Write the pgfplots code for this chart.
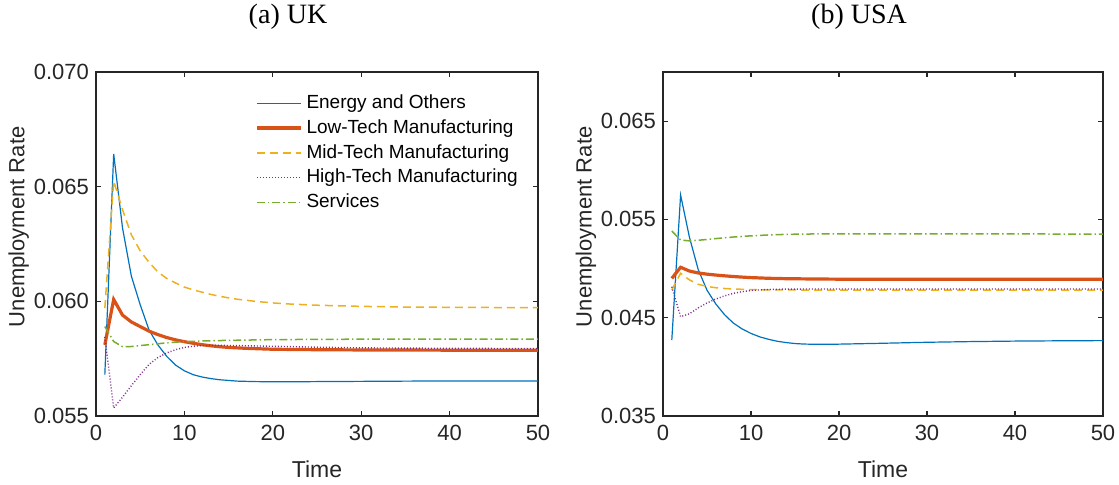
\documentclass[border=0pt]{standalone}
\usepackage{pgfplots}
\pgfplotsset{compat=1.18}
\usepackage{fontspec}
\setmainfont{Liberation Sans}
\newfontfamily\titlefont{Liberation Serif}

% MATLAB default line colours
\definecolor{mblue}{rgb}{0,0.447,0.741}
\definecolor{mred}{rgb}{0.85,0.325,0.098}
\definecolor{myellow}{rgb}{0.929,0.694,0.125}
\definecolor{mpurple}{rgb}{0.494,0.184,0.556}
\definecolor{mgreen}{rgb}{0.466,0.674,0.188}
\definecolor{axcol}{rgb}{0.15,0.15,0.15}

\pgfplotsset{
  panel/.style={
    scale only axis,
    width=221pt, height=172pt,
    xmin=0, xmax=50, xtick={0,10,...,50},
    tick align=inside,
    major tick length=2.5pt,
    axis line style={axcol, line width=0.6pt},
    every tick/.style={axcol, line width=0.6pt},
    tick label style={font=\fontsize{11}{13}\selectfont, text=axcol},
    xticklabel style={yshift=-1pt},
    /pgf/number format/assume math mode=true,
    scaled y ticks=false,
    yticklabel style={/pgf/number format/.cd, fixed, fixed zerofill, precision=3},
    xlabel={Time},
    ylabel={Unemployment Rate},
    xlabel style={font=\fontsize{11.5}{13}\selectfont, text=axcol, yshift=-3pt},
    every axis y label/.style={at={(axis description cs:-0.175,0.55)},
      anchor=center, rotate=90},
    ylabel style={font=\fontsize{11}{13}\selectfont, text=axcol},
  },
  energy/.style={mblue, line width=0.6pt},
  lowtech/.style={mred, line width=1.6pt},
  midtech/.style={myellow, line width=0.75pt, dash pattern=on 4pt off 2.5pt},
  hightech/.style={mpurple, line width=0.7pt, dash pattern=on 0.5pt off 1pt},
  services/.style={mgreen, line width=0.75pt, dash pattern=on 4pt off 1.5pt on 0.7pt off 1.5pt},
}

\begin{document}
\begin{tikzpicture}
\useasboundingbox (0,0) rectangle (559.5pt,242.5pt);

\node[font=\titlefont\fontsize{14}{16}\selectfont] at (144pt,234pt) {(a) UK};
\node[font=\titlefont\fontsize{14}{16}\selectfont] at (429.5pt,234pt) {(b) USA};

% ---------------- UK ----------------
\begin{axis}[panel,
  at={(48pt,34.5pt)}, anchor=south west,
  ymin=0.055, ymax=0.070,
  ytick={0.055,0.060,0.065,0.070},
  legend style={draw=none, fill=none, at={(0.355,0.952)}, anchor=north west,
    font=\fontsize{9.5}{11}\selectfont, row sep=0pt,
    legend cell align=left, inner sep=1pt,
    nodes={inner xsep=2pt}},
  legend image code/.code={\draw[#1] (0pt,0pt) -- (22pt,0pt);},
]
\addplot[energy] coordinates {
 (1,0.05680) (2,0.06643) (3,0.06320) (4,0.06110) (5,0.05985) (6,0.05875)
 (7,0.05810) (8,0.05760) (9,0.05722) (10,0.05697) (11,0.05680) (12,0.05670)
 (13,0.05663) (14,0.05658) (15,0.05655) (16,0.05652) (18,0.05650) (20,0.05649)
 (22,0.05649) (25,0.05650) (30,0.05651) (35,0.05652) (40,0.05653) (45,0.05653)
 (50,0.05653)};
\addlegendentry{Energy and Others}
\addplot[lowtech] coordinates {
 (1,0.05810) (2,0.06008) (3,0.05940) (4,0.05910) (5,0.05890) (6,0.05870)
 (7,0.05855) (8,0.05842) (9,0.05832) (10,0.05824) (11,0.05817) (12,0.05811)
 (13,0.05806) (14,0.05802) (15,0.05799) (17,0.05795) (20,0.05791) (25,0.05789)
 (30,0.05788) (40,0.05787) (50,0.05787)};
\addlegendentry{Low-Tech Manufacturing}
\addplot[midtech] coordinates {
 (1,0.05970) (2,0.06525) (3,0.06400) (4,0.06290) (5,0.06220) (6,0.06170)
 (7,0.06128) (8,0.06100) (9,0.06080) (10,0.06062) (11,0.06050) (12,0.06040)
 (13,0.06030) (14,0.06022) (15,0.06015) (16,0.06009) (18,0.06000) (20,0.05993)
 (22,0.05988) (25,0.05983) (30,0.05978) (35,0.05975) (40,0.05974) (45,0.05973)
 (50,0.05973)};
\addlegendentry{Mid-Tech Manufacturing}
\addplot[hightech] coordinates {
 (1,0.05845) (2,0.05535) (3,0.05582) (4,0.05632) (5,0.05680) (6,0.05725)
 (7,0.05755) (8,0.05775) (9,0.05789) (10,0.05799) (11,0.05804) (12,0.05807)
 (13,0.05808) (14,0.05808) (16,0.05807) (20,0.05804) (25,0.05800) (30,0.05797)
 (40,0.05795) (50,0.05794)};
\addlegendentry{High-Tech Manufacturing}
\addplot[services] coordinates {
 (1,0.05890) (2,0.05825) (3,0.05802) (4,0.05803) (5,0.05807) (6,0.05811)
 (7,0.05815) (8,0.05819) (9,0.05822) (10,0.05824) (12,0.05827) (14,0.05829)
 (17,0.05831) (20,0.05833) (25,0.05834) (30,0.05835) (40,0.05835) (50,0.05835)};
\addlegendentry{Services}
\end{axis}

% ---------------- USA ----------------
\begin{axis}[panel,
  at={(331.5pt,34.5pt)}, anchor=south west, width=220pt,
  ymin=0.035, ymax=0.070,
  ytick={0.035,0.045,0.055,0.065},
]
\addplot[energy] coordinates {
 (1,0.04273) (2,0.05748) (3,0.05320) (4,0.04990) (5,0.04780) (6,0.04640)
 (7,0.04530) (8,0.04445) (9,0.04385) (10,0.04340) (11,0.04305) (12,0.04280)
 (13,0.04260) (14,0.04247) (15,0.04237) (16,0.04232) (17,0.04230) (18,0.04229)
 (20,0.04231) (25,0.04240) (30,0.04250) (35,0.04257) (40,0.04262) (45,0.04265)
 (50,0.04267)};
\addplot[lowtech] coordinates {
 (1,0.04900) (2,0.05013) (3,0.04975) (4,0.04955) (5,0.04943) (6,0.04934)
 (7,0.04926) (8,0.04919) (9,0.04913) (10,0.04908) (12,0.04901) (14,0.04897)
 (17,0.04894) (20,0.04892) (30,0.04891) (50,0.04891)};
\addplot[midtech] coordinates {
 (1,0.04782) (2,0.04952) (3,0.04885) (4,0.04840) (5,0.04818) (6,0.04805)
 (7,0.04797) (8,0.04792) (10,0.04786) (12,0.04783) (15,0.04782) (20,0.04781)
 (30,0.04781) (50,0.04781)};
\addplot[hightech] coordinates {
 (1,0.04815) (2,0.04510) (3,0.04540) (4,0.04600) (5,0.04650) (6,0.04690)
 (7,0.04722) (8,0.04748) (9,0.04765) (10,0.04776) (11,0.04783) (12,0.04787)
 (14,0.04791) (17,0.04792) (20,0.04792) (30,0.04792) (50,0.04792)};
\addplot[services] coordinates {
 (1,0.05382) (2,0.05290) (3,0.05282) (4,0.05288) (5,0.05296) (6,0.05305)
 (7,0.05313) (8,0.05321) (10,0.05333) (12,0.05342) (14,0.05348) (17,0.05352)
 (20,0.05354) (25,0.05354) (30,0.05353) (40,0.05352) (50,0.05351)};
\end{axis}
\end{tikzpicture}
\end{document}
